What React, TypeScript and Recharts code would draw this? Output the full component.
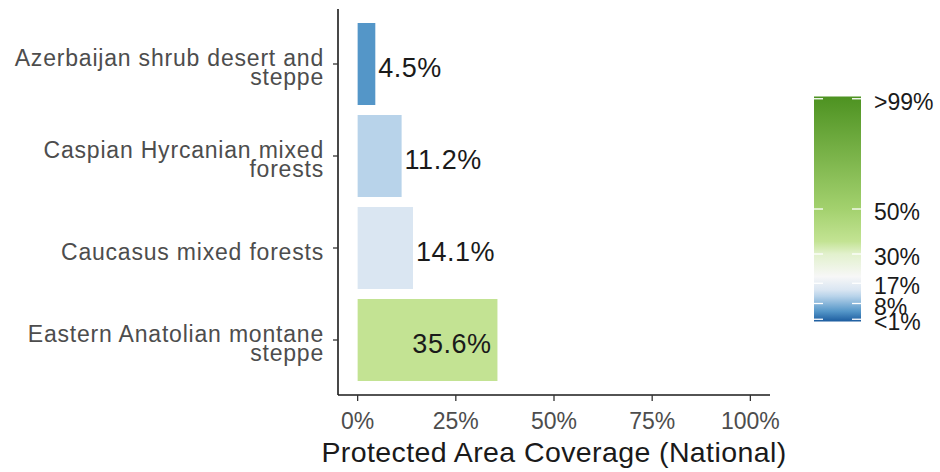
import React from 'react';
import { BarChart, Bar, XAxis, YAxis, Cell, LabelList } from 'recharts';

const categories = [
  'Azerbaijan shrub desert and steppe',
  'Caspian Hyrcanian mixed forests',
  'Caucasus mixed forests',
  'Eastern Anatolian montane steppe',
];
const coverage = [4.5, 11.2, 14.1, 35.6];
const barColors = ['#5496c8', '#b8d3ea', '#dae6f2', '#c3e393'];
const xTicks = [0, 25, 50, 75, 100];

const legendTickValues = [1, 8, 17, 30, 50, 99];
const legendTickLabels = ['<1%', '8%', '17%', '30%', '50%', '>99%'];
const gradientValues = [0, 4.5, 11.2, 14.1, 20, 30, 35.6, 50, 100];
const gradientColors = ['#1c5c9f', '#5496c8', '#b8d3ea', '#dae6f2', '#f7f7f7', '#e2f1cd', '#c3e393', '#a3d16e', '#4d9221'];

const data = categories.map((name, i) => ({ name, value: coverage[i] }));

const FONT = '"Liberation Sans", Arial, sans-serif';

function wrapText(s: string, width: number): string[] {
  const words = s.split(' ');
  const lines: string[] = [];
  let cur = '';
  for (const w of words) {
    if (cur && (cur + ' ' + w).length > width) {
      lines.push(cur);
      cur = w;
    } else {
      cur = cur ? cur + ' ' + w : w;
    }
  }
  if (cur) lines.push(cur);
  return lines;
}

const CategoryTick = (props: any) => {
  const { x, y, payload } = props;
  const lines = wrapText(String(payload.value), 27);
  const lineH = 19;
  const first = y + 12 - (lines.length - 1) * 10.5;
  return (
    <text x={x} y={first} textAnchor="end" fill="#4d4d4d" fontSize={23} letterSpacing={0.8} fontFamily={FONT}>
      {lines.map((l, i) => (
        <tspan key={i} x={x} y={first + i * lineH}>
          {l}
        </tspan>
      ))}
    </text>
  );
};

const BarValueLabel = (props: any) => {
  const { x, y, width, height, value } = props;
  const v = Number(value);
  const inside = v > 30;
  const bx = Number(x) + Number(width);
  return (
    <text
      x={inside ? bx - 6 : bx + 3}
      y={Number(y) + Number(height) / 2 + 13}
      textAnchor={inside ? 'end' : 'start'}
      fontSize={27}
      letterSpacing={0.5}
      fill="#1a1a1a"
      fontFamily={FONT}
    >
      {v.toFixed(1)}%
    </text>
  );
};

const LEG_X = 814;
const LEG_W = 47;
const LEG_TOP = 96.5;
const LEG_BOTTOM = 321.5;
const legY = (v: number) => LEG_BOTTOM - (v / 100) * (LEG_BOTTOM - LEG_TOP);

const ColourLegend = () => (
  <svg width={940} height={472} style={{ position: 'absolute', left: 0, top: 0, pointerEvents: 'none' }}>
    <defs>
      <linearGradient id="covGrad" x1="0" y1="1" x2="0" y2="0">
        {gradientValues.map((v, i) => (
          <stop key={i} offset={v / 100} stopColor={gradientColors[i]} />
        ))}
      </linearGradient>
    </defs>
    <rect x={LEG_X} y={LEG_TOP} width={LEG_W} height={LEG_BOTTOM - LEG_TOP} fill="url(#covGrad)" />
    {legendTickValues.map((v, i) => (
      <g key={i}>
        <line x1={LEG_X} x2={LEG_X + 9} y1={legY(v)} y2={legY(v)} stroke="#ffffff" strokeWidth={1.3} />
        <line x1={LEG_X + LEG_W - 9} x2={LEG_X + LEG_W} y1={legY(v)} y2={legY(v)} stroke="#ffffff" strokeWidth={1.3} />
        <text x={874} y={legY(v) + 11} fontSize={23} fill="#1a1a1a" fontFamily={FONT}>
          {legendTickLabels[i]}
        </text>
      </g>
    ))}
  </svg>
);

export default function App() {
  return (
    <div style={{ position: 'absolute', left: 0, top: 0, width: 940, height: 472, fontFamily: FONT, background: '#fff' }}>
      <BarChart
        width={940}
        height={472}
        data={data}
        layout="vertical"
        margin={{ top: 9, right: 170, bottom: 0, left: 0 }}
        barCategoryGap={5}
      >
        <XAxis
          type="number"
          domain={[-5, 105]}
          ticks={xTicks}
          tickFormatter={(v: number) => `${v}%`}
          height={77}
          tickSize={6}
          tickMargin={12}
          axisLine={{ stroke: '#1a1a1a', strokeWidth: 1.6 }}
          tickLine={{ stroke: '#333333', strokeWidth: 1.3 }}
          tick={{ fill: '#4d4d4d', fontSize: 23, fontFamily: FONT }}
          allowDataOverflow
          label={{
            value: 'Protected Area Coverage (National)',
            position: 'insideBottom',
            offset: 10,
            fill: '#1a1a1a',
            fontSize: 28.5,
            letterSpacing: 0.4,
            fontFamily: FONT,
          }}
        />
        <YAxis
          type="category"
          dataKey="name"
          width={338}
          padding={{ top: 9, bottom: 9 }}
          tickSize={5}
          tickMargin={9}
          axisLine={{ stroke: '#1a1a1a', strokeWidth: 1.6 }}
          tickLine={{ stroke: '#333333', strokeWidth: 1.3 }}
          tick={<CategoryTick />}
          interval={0}
        />
        <Bar dataKey="value" isAnimationActive={false}>
          {data.map((d, i) => (
            <Cell key={d.name} fill={barColors[i]} />
          ))}
          <LabelList dataKey="value" content={<BarValueLabel />} />
        </Bar>
      </BarChart>
      <ColourLegend />
    </div>
  );
}
